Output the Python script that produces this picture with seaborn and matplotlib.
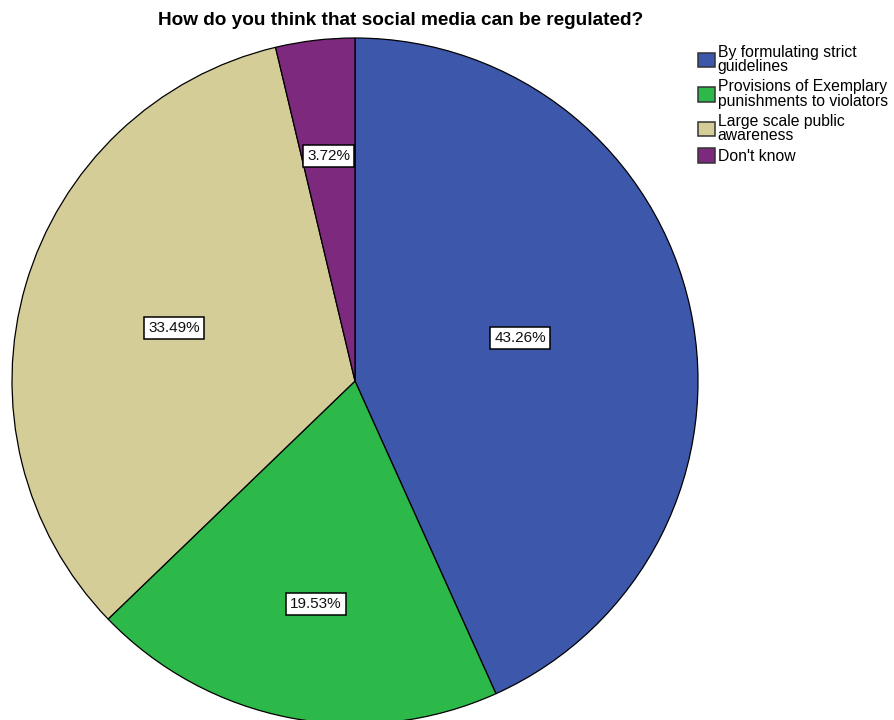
import matplotlib
matplotlib.use("Agg")
import matplotlib.pyplot as plt
import seaborn as sns
from matplotlib.patches import Patch
import numpy as np

categories = ["By formulating strict\nguidelines",
              "Provisions of Exemplary\npunishments to violators",
              "Large scale public\nawareness",
              "Don't know"]
values = [43.26, 19.53, 33.49, 3.72]
colors = ["#3D57AB", "#2DB84A", "#D4CD98", "#7D2A7E"]
label_dist = [0.497, 0.66, 0.55, 0.66]
label_ang_off = [2.5, 1.0, 0.0, 0.0]

sns.set_theme(style="white")
plt.rcParams['font.family'] = ['Liberation Sans', 'DejaVu Sans']
plt.rcParams['text.color'] = 'black'

fig = plt.figure(figsize=(8.94, 7.2), dpi=100)
ax = fig.add_axes([12/894, (720-381-343)/720, 686/894, 686/720])
palette = sns.color_palette(colors)
wedges, _ = ax.pie(values, colors=palette, startangle=90, counterclock=False,
                   radius=1.0, wedgeprops=dict(edgecolor="black", linewidth=0.9))
ax.set_xlim(-1, 1)
ax.set_ylim(-1, 1)
ax.set_aspect("equal")
ax.axis("off")

for w, v, d, off in zip(wedges, values, label_dist, label_ang_off):
    ang = np.deg2rad((w.theta1 + w.theta2) / 2 + off)
    ax.text(d*np.cos(ang), d*np.sin(ang), f"{v:.2f}%", ha="center", va="center",
            fontsize=11, color="#111111",
            bbox=dict(boxstyle="square,pad=0.25", fc="white", ec="black", lw=1.1))

fig.text(0.448, 0.972, "How do you think that social media can be regulated?",
         ha="center", va="center", fontsize=13.7, fontweight="bold", color="black")

handles = [Patch(facecolor=c, edgecolor="#333333", linewidth=1.1) for c in colors]
leg = fig.legend(handles, categories, loc="upper left", bbox_to_anchor=(0.781, 0.938),
                 frameon=False, fontsize=11.3, handlelength=1.05, handleheight=1.05,
                 handletextpad=0.2, labelspacing=0.33, borderaxespad=0, borderpad=0)
for t in leg.get_texts():
    t.set_linespacing(0.95)
    t.set_color("black")

fig.savefig("out.png", dpi=100, facecolor="white")
